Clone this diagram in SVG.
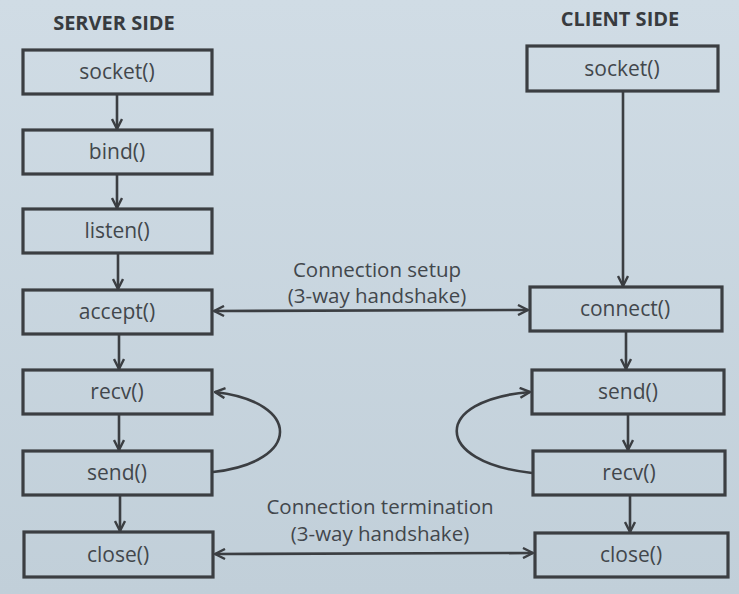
<svg xmlns="http://www.w3.org/2000/svg" width="739" height="594" viewBox="0 0 739 594">
<defs>
<linearGradient id="bg" x1="0" y1="0" x2="0" y2="1">
<stop offset="0" stop-color="#d0dce5"/>
<stop offset="1" stop-color="#c1cfd9"/>
</linearGradient>
<marker id="ah" viewBox="0 0 12 12" refX="11" refY="6" markerWidth="12" markerHeight="12" markerUnits="userSpaceOnUse" orient="auto-start-reverse">
<path d="M1,1 L11,6 L1,11" fill="none" stroke="#3b3e42" stroke-width="2.4"/>
</marker>
<style>
.box{fill:none;stroke:#3b3e42;stroke-width:3.2}
.lbl{font-family:"Open Sans","Liberation Sans",sans-serif;font-size:21px;fill:#42474c;text-anchor:middle}
.mid{font-size:20.5px}
.hdr{font-family:"Open Sans","Liberation Sans",sans-serif;font-size:20px;font-weight:bold;fill:#383b3f;text-anchor:middle}
.ln{fill:none;stroke:#3b3e42;stroke-width:2.6}
</style>
</defs>
<rect width="739" height="594" fill="url(#bg)"/>
<text class="hdr" x="114" y="30">SERVER SIDE</text>
<text class="hdr" x="620" y="26">CLIENT SIDE</text>
<g id="s_socket"><rect class="box" x="23" y="50" width="189" height="44"/><text class="lbl" x="117" y="79">socket()</text></g>
<g id="s_bind"><rect class="box" x="23" y="130" width="189" height="44"/><text class="lbl" x="117" y="159">bind()</text></g>
<g id="s_listen"><rect class="box" x="23" y="209" width="189" height="44"/><text class="lbl" x="117" y="238">listen()</text></g>
<g id="s_accept"><rect class="box" x="23" y="290" width="189" height="44"/><text class="lbl" x="117" y="319">accept()</text></g>
<g id="s_recv"><rect class="box" x="23" y="370" width="189" height="44"/><text class="lbl" x="117" y="399">recv()</text></g>
<g id="s_send"><rect class="box" x="23" y="451" width="189" height="44"/><text class="lbl" x="117" y="480">send()</text></g>
<g id="s_close"><rect class="box" x="24" y="532" width="189" height="45"/><text class="lbl" x="118" y="562">close()</text></g>
<g id="c_socket"><rect class="box" x="527" y="46" width="191" height="45"/><text class="lbl" x="622" y="76">socket()</text></g>
<g id="c_connect"><rect class="box" x="530" y="287" width="192" height="44"/><text class="lbl" x="625" y="316">connect()</text></g>
<g id="c_send"><rect class="box" x="532" y="370" width="192" height="44"/><text class="lbl" x="628" y="399">send()</text></g>
<g id="c_recv"><rect class="box" x="533" y="451" width="192" height="44"/><text class="lbl" x="629" y="480">recv()</text></g>
<g id="c_close"><rect class="box" x="535" y="533" width="193" height="44"/><text class="lbl" x="631" y="562">close()</text></g>
<g id="labels">
<text class="lbl mid" x="377" y="277">Connection setup</text>
<text class="lbl mid" x="377" y="303">(3-way handshake)</text>
<text class="lbl mid" x="380" y="514">Connection termination</text>
<text class="lbl mid" x="380" y="541">(3-way handshake)</text>
</g>
<g id="connectors">
<line class="ln" x1="117" y1="94" x2="117" y2="129" marker-end="url(#ah)"/>
<line class="ln" x1="117" y1="174" x2="117" y2="208" marker-end="url(#ah)"/>
<line class="ln" x1="118" y1="253" x2="118" y2="289" marker-end="url(#ah)"/>
<line class="ln" x1="119" y1="334" x2="119" y2="369" marker-end="url(#ah)"/>
<line class="ln" x1="119" y1="414" x2="119" y2="450" marker-end="url(#ah)"/>
<line class="ln" x1="120" y1="495" x2="120" y2="531" marker-end="url(#ah)"/>
<line class="ln" x1="623" y1="91" x2="623" y2="286" marker-end="url(#ah)"/>
<line class="ln" x1="626" y1="331" x2="626" y2="369" marker-end="url(#ah)"/>
<line class="ln" x1="628" y1="414" x2="628" y2="450" marker-end="url(#ah)"/>
<line class="ln" x1="630" y1="495" x2="630" y2="532" marker-end="url(#ah)"/>
<line class="ln" x1="214" y1="311" x2="528" y2="310" marker-start="url(#ah)" marker-end="url(#ah)"/>
<line class="ln" x1="215" y1="554" x2="533" y2="553" marker-start="url(#ah)" marker-end="url(#ah)"/>
<path class="ln" d="M213,472 C302,462 302,402 215,392" marker-end="url(#ah)"/>
<path class="ln" d="M532,473 C432,462 432,400 530,392" marker-end="url(#ah)"/>
</g>
</svg>
